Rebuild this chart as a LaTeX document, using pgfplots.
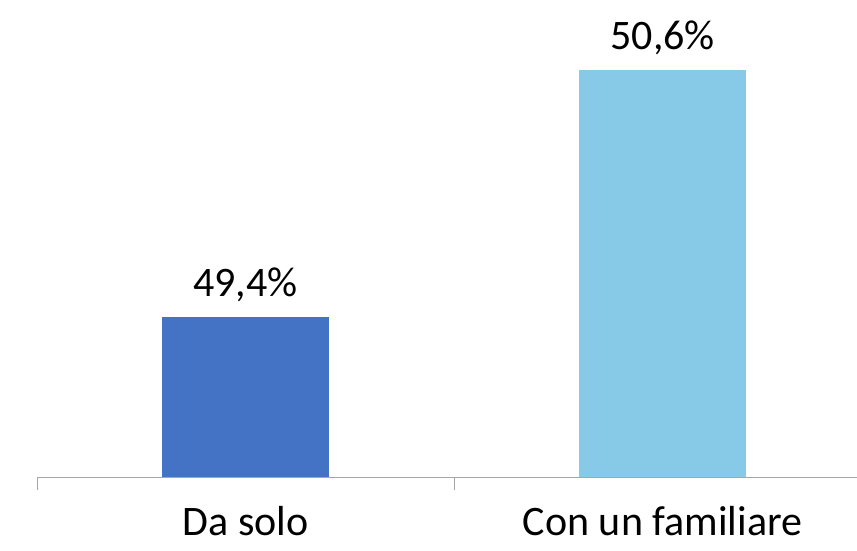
\documentclass[border=0pt]{standalone}
\usepackage{fontspec}
\setmainfont{Carlito}
\usepackage{pgfplots}
\pgfplotsset{compat=1.18}
\definecolor{darkbar}{HTML}{4472C4}
\definecolor{lightbar}{HTML}{87CAE8}
\definecolor{axisgray}{HTML}{A6A6A6}
\begin{document}
\begin{tikzpicture}[x=1pt,y=1pt]
\useasboundingbox (-37,-73) rectangle (820,477);
\begin{axis}[
  at={(0,0)}, anchor=south west,
  scale only axis, width=820pt, height=477pt,
  xmin=-0.5, xmax=1.466, ymin=48.62, ymax=50.94,
  axis x line*=bottom, axis y line=none,
  axis line style={axisgray, line width=1pt},
  ybar, bar width=167pt, bar shift=0pt,
  xtick={0,1}, xticklabels={Da solo, Con un familiare},
  tick align=outside, major tick length=0pt,
  tick style={axisgray, line width=1pt},
  extra x ticks={-0.5,0.5,1.5}, extra x tick labels={},
  extra x tick style={major tick length=13pt},
  ticklabel style={font=\fontsize{42}{50}\selectfont},
  xticklabel style={inner sep=0pt, yshift=-29pt},
  /pgf/number format/assume math mode=true,
  nodes near coords={\pgfmathprintnumber[fixed,fixed zerofill,precision=1,use comma]{\pgfplotspointmeta}\%},
  every node near coord/.append style={font=\fontsize{42}{50}\selectfont, black, yshift=11pt},
  clip=false,
]
\addplot[fill=darkbar, draw=none] coordinates {(0,49.4)};
\addplot[fill=lightbar, draw=none] coordinates {(1,50.6)};
\end{axis}
\end{tikzpicture}
\end{document}
